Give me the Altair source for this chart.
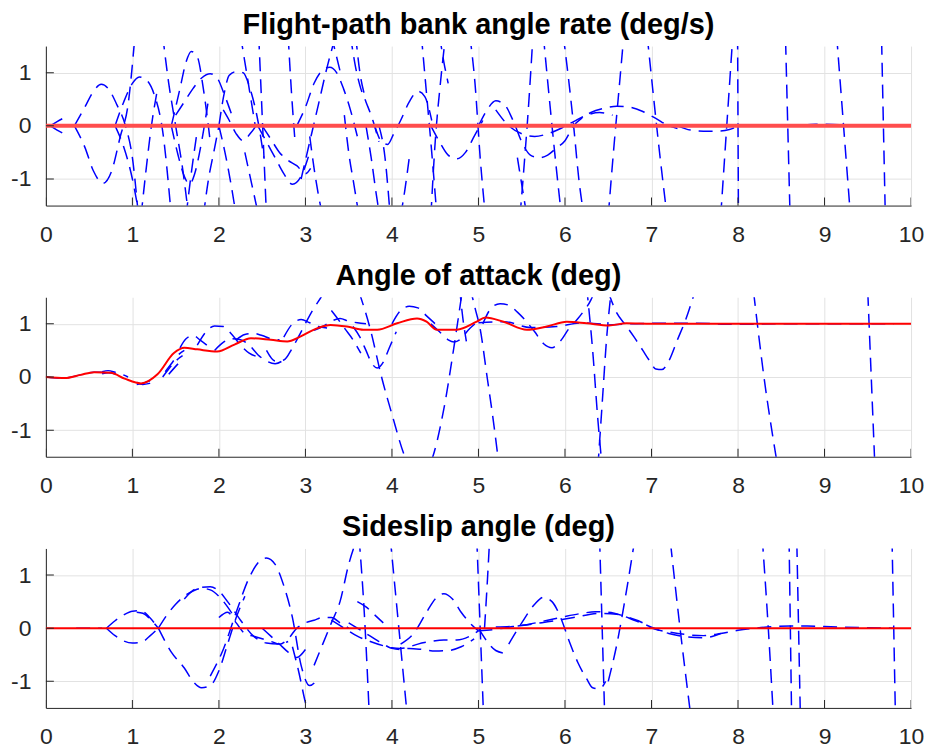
import altair as alt
import pandas as pd

X_DOMAIN = [0, 10]
Y_DOMAIN = [-1.5, 1.5]
X_TICKS = list(range(0, 11))
Y_TICKS = [-1, 0, 1]
TITLES = ["Flight-path bank angle rate (deg/s)", "Angle of attack (deg)", "Sideslip angle (deg)"]

# ---------------- Panel 1: flight-path bank angle rate ----------------
BANK_REF_T = [0, 10]
BANK_REF_Y = [0, 0]
BANK_T = [
    [0.05, 0.13, 0.22], [0.05, 0.13, 0.22],
    [0.33, 0.45, 0.55, 0.64, 0.72, 0.82, 0.92, 1.0, 1.07],
    [0.33, 0.45, 0.55, 0.66, 0.76, 0.86, 0.95, 1.03],
    [0.8, 0.9, 1.0, 1.08, 1.15, 1.25, 1.35, 1.45],
    [0.8, 0.9, 1.0, 1.08],
    [1.1, 1.16, 1.22, 1.28],
    [1.35, 1.42, 1.5, 1.58, 1.65],
    [1.45, 1.55, 1.62, 1.68, 1.75, 1.82, 1.9],
    [1.45, 1.52, 1.6, 1.66, 1.72, 1.8, 1.88],
    [1.62, 1.68, 1.74],
    [1.5, 1.6, 1.7, 1.8, 1.9, 1.98, 2.06, 2.15],
    [1.82, 1.88, 1.94, 2.0],
    [2.0, 2.06, 2.12, 2.2, 2.28, 2.36, 2.45, 2.52],
    [2.0, 2.07, 2.14, 2.2],
    [2.05, 2.12, 2.2, 2.28, 2.36, 2.45],
    [2.25, 2.3, 2.36, 2.42],
    [2.3, 2.38, 2.46],
    [2.46, 2.5, 2.55],
    [2.45, 2.55, 2.65, 2.75, 2.85, 2.95, 3.05],
    [2.5, 2.6, 2.7, 2.8, 2.9, 3.0, 3.06],
    [2.8, 2.84, 2.88],
    [2.9, 3.0, 3.1, 3.2, 3.28, 3.36, 3.44, 3.52, 3.6],
    [2.95, 3.05, 3.15, 3.25, 3.35],
    [3.05, 3.1, 3.15, 3.2],
    [3.3, 3.36, 3.42],
    [3.45, 3.5, 3.56, 3.62],
    [3.52, 3.58, 3.64, 3.7, 3.78, 3.85],
    [3.58, 3.63, 3.68],
    [3.7, 3.76, 3.82, 3.88],
    [3.8, 3.88, 3.95, 4.02, 4.1, 4.2, 4.3, 4.38, 4.46],
    [3.85, 3.92, 3.98],
    [4.1, 4.15, 4.2],
    [4.34, 4.4, 4.46, 4.52],
    [4.45, 4.5, 4.56, 4.62],
    [4.55, 4.6, 4.65],
    [4.45, 4.55, 4.65, 4.75, 4.85, 4.95, 5.05],
    [4.9, 4.96, 5.02, 5.08],
    [5.0, 5.1, 5.2, 5.3, 5.4, 5.5, 5.6, 5.7, 5.8, 5.9, 6.0, 6.1, 6.2, 6.3, 6.45, 6.6, 6.75, 6.9, 7.05, 7.2, 7.3],
    [5.2, 5.35, 5.5, 5.65, 5.8, 5.95, 6.1, 6.25, 6.4, 6.55],
    [5.45, 5.5, 5.56],
    [5.48, 5.53, 5.58, 5.63],
    [5.75, 5.82, 5.9, 5.96],
    [5.98, 6.04, 6.1, 6.16, 6.22],
    [6.5, 6.56, 6.62, 6.68],
    [6.95, 7.02, 7.1, 7.18],
    [7.3, 7.45, 7.6, 7.75, 7.9, 8.0],
    [7.8, 7.87, 7.94],
    [7.995, 8.005],
    [8.55, 8.6],
    [9.14, 9.22, 9.3],
    [9.66, 9.7],
    [8.0, 8.3, 8.6, 8.9, 9.2, 9.5, 9.75],
]
BANK_Y = [
    [0.0, 0.08, 0.16], [0.0, -0.08, -0.16],
    [0.0, 0.35, 0.65, 0.78, 0.7, 0.4, 0.0, -0.6, -1.7],
    [0.0, -0.4, -0.85, -1.08, -0.85, -0.2, 0.4, 1.7],
    [0.0, 0.45, 0.8, 0.92, 0.88, 0.6, -0.1, -1.7],
    [0.0, -0.4, -1.0, -1.7],
    [-1.7, -0.8, 0.0, 0.6],
    [1.7, 0.8, 0.0, -0.8, -1.7],
    [0.0, 0.7, 1.2, 1.4, 1.3, 0.7, -0.3],
    [0.0, -0.5, -0.95, -1.1, -0.9, -0.3, 0.5],
    [-1.7, -0.9, -0.2],
    [0.2, 0.45, 0.7, 0.9, 0.98, 0.9, 0.6, 0.2],
    [-1.7, -1.0, -0.5, 0.0],
    [0.0, 0.6, 0.95, 1.02, 1.0, 0.7, 0.1, -0.6],
    [0.0, -0.5, -1.1, -1.7],
    [0.3, 0.1, -0.15, -0.28, -0.15, 0.05],
    [1.7, 1.2, 0.6, 0.0],
    [-0.5, -1.1, -1.7],
    [1.7, 0.2, -1.7],
    [0.0, -0.3, -0.6, -0.9, -1.1, -0.95, -0.5],
    [0.0, -0.25, -0.5, -0.65, -0.75, -0.9, -0.8],
    [1.7, 0.6, -0.3],
    [0.0, 0.35, 0.8, 1.05, 1.1, 1.0, 0.7, 0.3, -0.2],
    [-1.0, -0.3, 0.4, 1.1, 1.7],
    [-0.2, -0.8, -1.3, -1.7],
    [1.7, 1.3, 0.9],
    [0.2, -0.5, -1.1, -1.7],
    [1.7, 1.1, 0.7, 0.45, 0.1, -0.3],
    [1.7, 1.0, 0.6],
    [0.0, -0.6, -1.3, -1.9],
    [0.0, -0.3, -0.35, -0.15, 0.1, 0.45, 0.65, 0.55, 0.1],
    [0.0, -0.6, -1.7],
    [-1.7, -1.2, -0.6],
    [1.7, 0.6, -0.5, -1.7],
    [-1.7, -0.3, 0.8, 1.7],
    [1.7, 1.2, 0.8],
    [0.0, -0.3, -0.55, -0.62, -0.5, -0.2, 0.1],
    [1.7, 0.8, -0.6, -1.7],
    [0.0, 0.3, 0.47, 0.4, 0.1, -0.3, -0.55, -0.6, -0.55, -0.42, -0.28, 0.0, 0.15, 0.25, 0.33, 0.37, 0.35, 0.27, 0.14, 0.0, -0.05],
    [0.3, 0.0, -0.15, -0.2, -0.15, -0.05, 0.08, 0.2, 0.25, 0.2],
    [-0.6, -1.1, -1.7],
    [-1.7, -0.7, 0.4, 1.7],
    [1.7, 0.5, -0.8, -1.7],
    [1.7, 0.9, 0.0, -1.0, -1.7],
    [-1.7, -0.5, 0.6, 1.7],
    [1.7, 0.6, -0.6, -1.7],
    [0.0, -0.08, -0.1, -0.1, -0.07, 0.0],
    [-1.7, 0.0, 1.7],
    [1.7, -1.7],
    [1.6, -1.6],
    [1.7, 0.0, -1.7],
    [1.6, -1.5],
    [0.0, 0.02, 0.0, 0.03, 0.02, 0.01, 0.0],
]

# ---------------- Panel 2: angle of attack ----------------
AOA_REF_T = [0, 0.22, 0.4, 0.56, 0.75, 0.91, 1.1, 1.29, 1.48, 1.6, 1.75, 1.98, 2.18, 2.37, 2.6, 2.79,
             2.94, 3.14, 3.29, 3.48, 3.67, 3.83, 4.06, 4.29, 4.4, 4.52, 4.75, 4.98, 5.08, 5.29, 5.56,
             5.79, 6.02, 6.25, 6.51, 6.71, 7.0, 8.0, 9.0, 10.0]
AOA_REF_Y = [0, -0.02, 0.04, 0.09, 0.08, -0.03, -0.12, 0.05, 0.45, 0.55, 0.52, 0.48, 0.61, 0.73, 0.70,
             0.67, 0.76, 0.92, 0.98, 0.95, 0.89, 0.89, 1.01, 1.1, 1.04, 0.89, 0.89, 1.04, 1.12, 1.04,
             0.89, 0.95, 1.04, 1.01, 0.97, 1.01, 1.0, 1.0, 1.0, 1.0]
AOA_T = [
    [0.0, 0.2, 0.4, 0.55, 0.7],
    [0.65, 0.72, 0.8, 0.88, 0.95],
    [0.65, 0.72, 0.8, 0.88],
    [1.05, 1.12, 1.2, 1.28],
    [1.05, 1.12, 1.2, 1.28],
    [1.35, 1.42, 1.5, 1.58],
    [1.38, 1.45, 1.52, 1.6],
    [1.42, 1.5, 1.58],
    [1.55, 1.62, 1.7, 1.78, 1.86],
    [1.75, 1.85, 1.95, 2.05, 2.15, 2.25, 2.35, 2.45],
    [1.95, 2.05, 2.15, 2.25, 2.35, 2.45, 2.55, 2.65, 2.75],
    [2.2, 2.3, 2.4, 2.5, 2.6, 2.7],
    [2.55, 2.65, 2.75, 2.85, 2.95, 3.03, 3.1, 3.18, 3.25],
    [2.75, 2.85, 2.95, 3.05, 3.15, 3.25],
    [3.1, 3.2, 3.3, 3.4, 3.5, 3.6, 3.7],
    [3.3, 3.38, 3.46, 3.55, 3.64],
    [3.55, 3.63, 3.7, 3.77, 3.83, 3.9, 3.97, 4.05],
    [3.62, 3.75, 3.88, 4.0, 4.15, 4.3, 4.45, 4.6, 4.72, 4.82],
    [4.0, 4.1, 4.2, 4.3, 4.4, 4.5],
    [4.45, 4.55, 4.65, 4.72, 4.8, 4.88, 4.96],
    [4.78, 4.82, 4.86],
    [4.9, 4.96, 5.02, 5.1, 5.17, 5.24],
    [5.05, 5.15, 5.25, 5.35, 5.45, 5.55, 5.65, 5.75, 5.85, 5.95, 6.05, 6.15, 6.22, 6.3, 6.36],
    [6.25, 6.32, 6.38, 6.43],
    [6.38, 6.43, 6.48, 6.54],
    [6.5, 6.6, 6.7, 6.8, 6.9, 6.98, 7.05, 7.12, 7.2, 7.3, 7.4, 7.5],
    [8.18, 8.3, 8.45],
    [9.5, 9.54, 9.58],
    [5.0, 5.3, 5.6, 5.9, 6.2, 6.5],
    [6.5, 7.0, 7.5, 8.0, 8.5, 9.0, 9.5, 9.8],
]
AOA_Y = [
    [0.0, -0.02, 0.04, 0.09, 0.09],
    [0.1, 0.12, 0.09, 0.05, 0.0],
    [0.06, 0.08, 0.06, 0.02],
    [-0.1, -0.14, -0.12, -0.08],
    [-0.14, -0.12, -0.07, -0.02],
    [0.0, 0.15, 0.3, 0.4],
    [0.1, 0.25, 0.4, 0.5],
    [0.05, 0.2, 0.33],
    [0.55, 0.72, 0.78, 0.7, 0.6],
    [0.6, 0.85, 0.96, 0.95, 0.8, 0.6, 0.45, 0.38],
    [0.5, 0.65, 0.72, 0.7, 0.6, 0.42, 0.3, 0.25, 0.32],
    [0.7, 0.8, 0.82, 0.78, 0.72, 0.7],
    [0.5, 0.3, 0.32, 0.55, 0.85, 1.1, 1.3, 1.5, 1.7],
    [0.75, 1.0, 1.08, 1.02, 0.95, 0.92],
    [0.88, 0.95, 1.05, 1.1, 1.05, 1.02, 1.0],
    [1.25, 1.08, 0.9, 0.7, 0.45],
    [0.95, 0.75, 0.5, 0.25, 0.17, 0.28, 0.55, 0.85],
    [1.6, 0.9, 0.0, -0.7, -1.5, -1.9, -1.6, -0.6, 0.6, 1.7],
    [1.0, 1.25, 1.33, 1.3, 1.15, 1.0],
    [1.0, 0.85, 0.7, 0.66, 0.72, 0.88, 1.0],
    [1.7, 1.1, 0.67],
    [1.7, 1.3, 0.9, 0.0, -0.8, -1.7],
    [1.0, 1.3, 1.38, 1.35, 1.22, 1.05, 0.85, 0.63, 0.55, 0.68, 0.92, 1.1, 1.25, 1.45, 1.7],
    [1.7, 0.5, -0.8, -1.7],
    [-1.7, -0.5, 0.7, 1.7],
    [1.6, 1.2, 0.98, 0.75, 0.5, 0.3, 0.15, 0.14, 0.3, 0.7, 1.1, 1.6],
    [1.6, 0.0, -1.6],
    [1.6, 0.0, -1.6],
    [1.02, 1.04, 0.93, 0.95, 1.02, 0.98],
    [0.98, 1.01, 1.01, 0.99, 1.0, 1.0, 1.0, 1.0],
]

# ---------------- Panel 3: sideslip angle ----------------
BETA_REF_T = [0, 10]
BETA_REF_Y = [0, 0]
BETA_T = [
    [0.35, 0.5, 0.65],
    [0.7, 0.8, 0.9, 1.0, 1.1, 1.2, 1.3],
    [0.7, 0.8, 0.9, 1.0, 1.1, 1.2, 1.3],
    [1.05, 1.12, 1.2, 1.3],
    [1.3, 1.4, 1.5, 1.6, 1.7, 1.8, 1.9, 2.0, 2.1, 2.2],
    [1.3, 1.45, 1.6, 1.7, 1.8, 1.9, 2.0, 2.1, 2.2, 2.3],
    [1.6, 1.75, 1.9, 2.0, 2.1, 2.25, 2.4, 2.55, 2.7, 2.8],
    [1.9, 2.05, 2.2, 2.35, 2.5, 2.55, 2.65, 2.75, 2.85, 2.95, 3.05, 3.12],
    [2.0, 2.1, 2.2, 2.3, 2.4, 2.5, 2.6, 2.7, 2.8, 2.9, 3.0, 3.1, 3.2, 3.3, 3.4, 3.5],
    [2.5, 2.6, 2.7, 2.8, 2.9, 3.0],
    [2.85, 2.92, 3.0, 3.05],
    [3.1, 3.2, 3.3, 3.4, 3.5, 3.6],
    [3.3, 3.45, 3.6, 3.75, 3.9, 4.0, 4.1, 4.2, 4.3, 4.45, 4.6, 4.75, 4.9, 5.0],
    [3.5, 3.6, 3.7, 3.8, 3.9, 4.0, 4.1, 4.2, 4.35, 4.5, 4.65, 4.8, 4.95],
    [3.62, 3.68, 3.74],
    [3.6, 3.7, 3.8, 3.9],
    [3.98, 4.08, 4.18],
    [4.1, 4.25, 4.4, 4.5, 4.6, 4.7, 4.8, 4.9, 5.0],
    [4.98, 5.02, 5.06],
    [5.07, 5.1, 5.13],
    [5.0, 5.1, 5.2, 5.3],
    [5.0, 5.2, 5.4, 5.6, 5.8, 6.0, 6.2, 6.35, 6.5, 6.7, 6.9, 7.0, 7.2, 7.4, 7.6, 7.8, 8.0, 8.2, 8.4,
     8.6, 8.8, 9.0, 9.2, 9.5, 9.8],
    [5.2, 5.5, 5.8, 6.1, 6.4, 6.6, 6.8, 7.0, 7.2, 7.4, 7.6, 7.8],
    [5.35, 5.5, 5.65, 5.75, 5.85, 5.95, 6.05, 6.15, 6.25, 6.32, 6.4, 6.47],
    [6.4, 6.43, 6.46],
    [6.5, 6.6, 6.7, 6.8],
    [7.22, 7.33, 7.45],
    [8.28, 8.35, 8.41],
    [8.59, 8.62],
    [8.68, 8.72],
    [9.78, 9.82],
]
BETA_Y = [
    [0.0, 0.0, 0.0],
    [0.0, 0.14, 0.25, 0.32, 0.33, 0.2, 0.0],
    [0.0, -0.14, -0.24, -0.28, -0.27, -0.15, 0.0],
    [0.3, 0.28, 0.18, 0.0],
    [0.0, 0.25, 0.45, 0.6, 0.7, 0.75, 0.72, 0.6, 0.4, 0.15],
    [0.0, -0.45, -0.75, -1.0, -1.12, -1.08, -0.8, -0.3, 0.2, 0.6],
    [0.55, 0.75, 0.78, 0.7, 0.5, 0.15, -0.15, -0.28, -0.3, -0.25],
    [-0.9, -0.4, 0.3, 0.95, 1.3, 1.32, 1.2, 0.8, 0.2, -0.7, -1.08, -1.0],
    [0.2, 0.3, 0.1, -0.1, -0.15, -0.2, -0.25, -0.3, -0.2, 0.0, 0.1, 0.15, 0.2, 0.2, 0.1, 0.0],
    [0.0, -0.15, -0.3, -0.45, -0.55, -0.4],
    [-0.35, -0.8, -1.4, -1.7],
    [-0.7, -0.3, 0.1, 0.5, 1.2, 1.7],
    [0.15, 0.0, -0.15, -0.25, -0.33, -0.37, -0.38, -0.35, -0.3, -0.25, -0.22, -0.22, -0.15, -0.05],
    [0.1, 0.0, -0.1, -0.2, -0.3, -0.38, -0.4, -0.38, -0.4, -0.43, -0.42, -0.35, -0.2],
    [1.7, 0.3, -1.7],
    [0.5, 0.4, 0.25, 0.1],
    [1.7, 0.0, -1.7],
    [-0.3, -0.1, 0.3, 0.55, 0.65, 0.55, 0.3, 0.1, -0.05],
    [1.7, 0.0, -1.7],
    [0.0, 0.8, 1.7],
    [0.0, -0.25, -0.42, -0.47],
    [-0.05, -0.02, 0.03, 0.08, 0.15, 0.22, 0.28, 0.31, 0.3, 0.22, 0.1, 0.0, -0.07, -0.12, -0.14, -0.1,
     -0.04, 0.0, 0.03, 0.04, 0.04, 0.03, 0.02, 0.01, 0.0],
    [0.02, 0.05, 0.12, 0.2, 0.28, 0.26, 0.15, 0.02, -0.1, -0.16, -0.18, -0.1],
    [-0.3, 0.1, 0.45, 0.58, 0.5, 0.2, -0.25, -0.65, -0.95, -1.12, -1.14, -1.0],
    [1.7, 0.0, -1.7],
    [-1.0, -0.3, 0.6, 1.6],
    [1.6, 0.0, -1.6],
    [1.7, 0.0, -1.7],
    [1.7, -1.7],
    [1.6, -1.6],
    [1.7, -1.7],
]

AXIS_COLOR = "#262626"


def segments_frame(seg_t, seg_y):
    rows = []
    for i, (ts, ys) in enumerate(zip(seg_t, seg_y)):
        for k, (t, v) in enumerate(zip(ts, ys)):
            rows.append({"seg": i, "k": k, "t": t, "v": v})
    return pd.DataFrame(rows)


def make_panel(title, seg_t, seg_y, ref_t, ref_y, ref_width, ref_color):
    seg_df = segments_frame(seg_t, seg_y)
    ref_df = pd.DataFrame({"t": ref_t, "v": ref_y, "k": list(range(len(ref_t)))})
    xt_df = pd.DataFrame({"t": X_TICKS})
    yt_df = pd.DataFrame({"v": Y_TICKS})
    xenc = alt.X("t:Q", scale=alt.Scale(domain=X_DOMAIN, nice=False, zero=False),
                 axis=alt.Axis(values=X_TICKS, title=None, format="d", labelPadding=18,
                               labelFlush=False))
    yenc = alt.Y("v:Q", scale=alt.Scale(domain=Y_DOMAIN, nice=False, zero=False),
                 axis=alt.Axis(values=Y_TICKS, title=None, labelPadding=15, minExtent=38,
                               labelExpr="datum.value < 0 ? '-' + abs(datum.value) : '' + datum.value"))
    blue = alt.Chart(seg_df).mark_line(
        color="#0000ff", strokeWidth=1.5, strokeDash=[14, 8], clip=True, interpolate="monotone"
    ).encode(x=xenc, y=yenc, detail="seg:N", order="k:Q")
    red = alt.Chart(ref_df).mark_line(
        color=ref_color, strokeWidth=ref_width, clip=True, interpolate="monotone"
    ).encode(x="t:Q", y="v:Q", order="k:Q")
    xticks = alt.Chart(xt_df).mark_tick(
        orient="vertical", size=16, thickness=1, color=AXIS_COLOR, clip=True, opacity=1
    ).encode(x="t:Q", y=alt.datum(Y_DOMAIN[0]))
    yticks = alt.Chart(yt_df).mark_tick(
        orient="horizontal", size=16, thickness=1, color=AXIS_COLOR, clip=True, opacity=1
    ).encode(y="v:Q", x=alt.datum(X_DOMAIN[0]))
    return alt.layer(blue, red, xticks, yticks).properties(width=868, height=160, title=title)


p1 = make_panel(TITLES[0], BANK_T, BANK_Y, BANK_REF_T, BANK_REF_Y, 4, "#ff4d4d")
p2 = make_panel(TITLES[1], AOA_T, AOA_Y, AOA_REF_T, AOA_REF_Y, 2, "#ff0000")
p3 = make_panel(TITLES[2], BETA_T, BETA_Y, BETA_REF_T, BETA_REF_Y, 2, "#ff0000")

chart = alt.vconcat(p1, p2, p3, spacing=16).properties(
    padding={"left": 0, "top": 2, "right": 0, "bottom": 0}
).configure_view(stroke=None).configure_axis(
    labelFont="Liberation Sans", labelFontSize=23, labelColor=AXIS_COLOR,
    domainColor=AXIS_COLOR, domainWidth=1, gridColor="#e2e2e2", gridWidth=1,
    ticks=False,
).configure_title(
    font="Liberation Sans", fontSize=29, fontWeight="bold", color="#000000", anchor="middle", offset=6
)

chart.save("out.html", embed_options={"renderer": "svg", "actions": False})
